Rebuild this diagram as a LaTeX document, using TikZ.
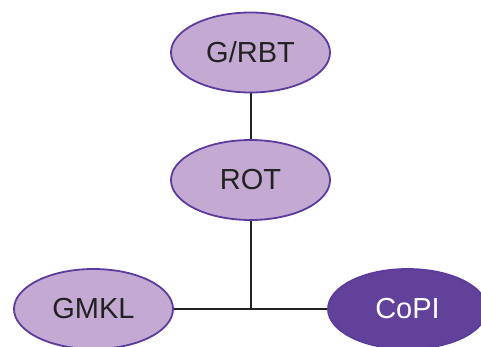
\documentclass[tikz,border=0pt]{standalone}
\usepackage{fontspec}
\setmainfont{Liberation Sans}
\usetikzlibrary{shapes.geometric}
\definecolor{lightp}{HTML}{C4AAD3}
\definecolor{edgep}{HTML}{5B3C9C}
\definecolor{darkp}{HTML}{62419A}
\definecolor{txt}{HTML}{222222}
\tikzset{
  ell/.style={ellipse, draw=edgep, line width=1.8pt, minimum width=159pt, minimum height=80pt, inner sep=0pt, font=\fontsize{29}{29}\selectfont},
  lightell/.style={ell, fill=lightp, text=txt},
  darkell/.style={ell, fill=darkp, text=white},
  conn/.style={draw=txt, line width=2pt}
}
\begin{document}
\begin{tikzpicture}[x=1pt,y=-1pt]
\useasboundingbox (0,0) rectangle (481,346);
\clip (0,0) rectangle (481,346);
\node[lightell] (grbt) at (250.5,52.5) {G/RBT};
\node[lightell] (rot) at (250.5,180) {ROT};
\node[lightell] (gmkl) at (93.5,309) {GMKL};
\node[darkell] (copi) at (407.5,309) {CoPI};
\coordinate (j) at (250.5,309);
\draw[conn] (grbt) -- (rot);
\draw[conn] (rot) -- (j);
\draw[conn] (gmkl) -- (copi);
\end{tikzpicture}
\end{document}
